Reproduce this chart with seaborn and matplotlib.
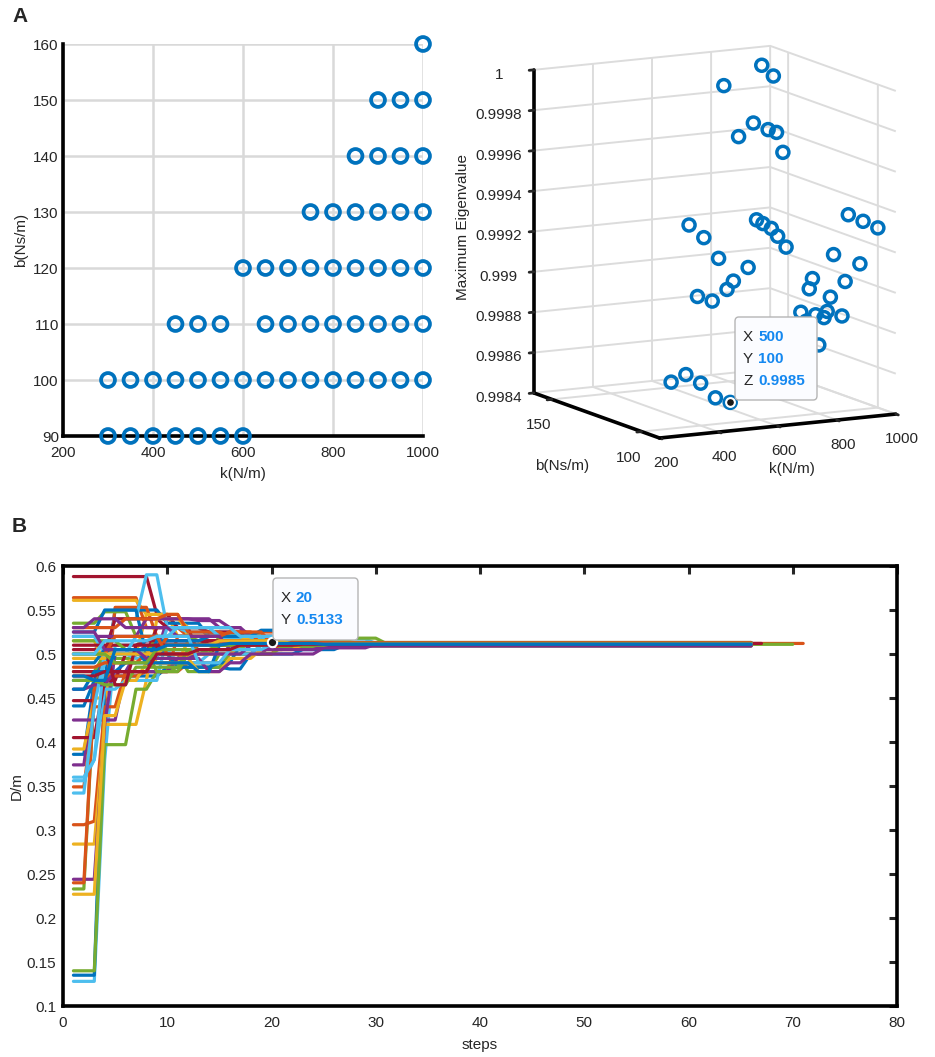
import numpy as np
import pandas as pd
import matplotlib
matplotlib.use("Agg")
import matplotlib.pyplot as plt
import seaborn as sns
from matplotlib.patches import FancyBboxPatch
from matplotlib.ticker import FuncFormatter


# ---- panel A: (k, b) pairs and their maximum eigenvalue ----
k_vals = [300, 350, 400, 450, 500, 550, 600,
          300, 350, 400, 450, 500, 550, 600, 650, 700, 750, 800, 850, 900, 950, 1000,
          450, 500, 550, 650, 700, 750, 800, 850, 900, 950, 1000,
          600, 650, 700, 750, 800, 850, 900, 950, 1000,
          750, 800, 850, 900, 950, 1000,
          850, 900, 950, 1000,
          900, 950, 1000,
          1000]
b_vals = [90] * 7 + [100] * 15 + [110] * 11 + [120] * 9 + [130] * 6 + [140] * 4 + [150] * 3 + [160]
eig_vals = [0.99944, 0.99937, 0.99926, 0.99914, 0.99920, 0.99941, 0.99934,
            0.99863, 0.99866, 0.99861, 0.99853, 0.99850, 0.99855, 0.99859, 0.99865,
            0.99871, 0.99878, 0.99874, 0.99918, 0.99937, 0.99933, 0.99929,
            0.99900, 0.99897, 0.99902, 0.99935, 0.99930, 0.99920, 0.99887, 0.99885,
            0.99893, 0.99900, 0.99908,
            0.99999, 0.99973, 0.99979, 0.99975, 0.99963, 0.99859, 0.99899, 0.99882, 0.99879,
            0.99870, 0.99863, 0.99849, 0.99868, 0.99890, 0.99875,
            0.99999, 0.99965, 0.99854, 0.99870,
            0.99847, 0.99989, 0.99855,
            0.99857]
tip_a = (500, 100, 0.9985)

# ---- panel B: D/m per run, as (step, value) change points, held until the next one ----
runs = [
    [(1, 0.386), (3, 0.47), (4, 0.505), (9, 0.51), (20, 0.511)],
    [(1, 0.564), (8, 0.53), (12, 0.52), (19, 0.525), (22, 0.512)],
    [(1, 0.561), (8, 0.545), (11, 0.52), (18, 0.512)],
    [(1, 0.374), (3, 0.46), (4, 0.50), (8, 0.51), (16, 0.512)],
    [(1, 0.233), (3, 0.46), (4, 0.495), (9, 0.50), (14, 0.505), (22, 0.511)],
    [(1, 0.128), (4, 0.38), (5, 0.51), (8, 0.515), (14, 0.52), (22, 0.513)],
    [(1, 0.588), (9, 0.545), (11, 0.53), (14, 0.52), (20, 0.512)],
    [(1, 0.441), (3, 0.47), (5, 0.55), (10, 0.535), (14, 0.52), (21, 0.511)],
    [(1, 0.349), (3, 0.44), (5, 0.553), (9, 0.52), (16, 0.524), (20, 0.511)],
    [(1, 0.392), (3, 0.45), (5, 0.50), (8, 0.545), (12, 0.52), (19, 0.512)],
    [(1, 0.425), (6, 0.48), (7, 0.50), (10, 0.54), (15, 0.53), (18, 0.512)],
    [(1, 0.535), (4, 0.548), (7, 0.52), (10, 0.50), (12, 0.48), (15, 0.50), (19, 0.51), (24, 0.509)],
    [(1, 0.50), (5, 0.54), (8, 0.59), (10, 0.53), (12, 0.525), (17, 0.515), (25, 0.512)],
    [(1, 0.447), (4, 0.50), (5, 0.54), (10, 0.53), (13, 0.50), (15, 0.51), (22, 0.511)],
    [(1, 0.135), (4, 0.47), (5, 0.475), (10, 0.485), (16, 0.483), (18, 0.50), (23, 0.505), (27, 0.51)],
    [(1, 0.306), (3, 0.31), (4, 0.44), (6, 0.48), (12, 0.49), (16, 0.50), (21, 0.512)],
    [(1, 0.284), (4, 0.42), (8, 0.47), (9, 0.54), (12, 0.53), (17, 0.52), (20, 0.511)],
    [(1, 0.244), (4, 0.42), (5, 0.50), (9, 0.49), (12, 0.50), (20, 0.511)],
    [(1, 0.14), (4, 0.397), (7, 0.46), (9, 0.48), (11, 0.485), (16, 0.50), (21, 0.508), (27, 0.51)],
    [(1, 0.356), (3, 0.38), (4, 0.46), (6, 0.47), (10, 0.52), (16, 0.517), (30, 0.512)],
    [(1, 0.405), (4, 0.47), (6, 0.50), (9, 0.53), (14, 0.525), (18, 0.51)],
    [(1, 0.47), (5, 0.50), (10, 0.505), (17, 0.51), (20, 0.5133), (28, 0.511)],
    [(1, 0.240), (3, 0.46), (4, 0.475), (8, 0.48), (11, 0.52), (16, 0.525), (19, 0.51)],
    [(1, 0.227), (4, 0.43), (6, 0.47), (8, 0.49), (12, 0.515), (18, 0.52), (22, 0.513)],
    [(1, 0.52), (8, 0.54), (13, 0.538), (16, 0.53), (18, 0.52), (26, 0.513), (30, 0.512)],
    [(1, 0.48), (4, 0.50), (9, 0.52), (13, 0.515), (19, 0.51)],
    [(1, 0.36), (3, 0.38), (4, 0.50), (8, 0.505), (11, 0.49), (14, 0.50), (19, 0.51)],
    [(1, 0.505), (4, 0.51), (8, 0.515), (18, 0.511)],
    [(1, 0.525), (4, 0.55), (8, 0.50), (11, 0.485), (15, 0.49), (17, 0.51)],
    [(1, 0.53), (6, 0.54), (10, 0.545), (12, 0.525), (16, 0.52), (21, 0.512)],
    [(1, 0.515), (4, 0.49), (7, 0.495), (13, 0.48), (16, 0.495), (19, 0.505), (23, 0.511)],
    [(1, 0.46), (3, 0.465), (5, 0.48), (11, 0.495), (14, 0.48), (16, 0.49), (18, 0.50), (25, 0.507), (30, 0.511)],
    [(1, 0.515), (6, 0.505), (9, 0.48), (12, 0.50), (15, 0.52), (20, 0.513)],
    [(1, 0.342), (3, 0.44), (4, 0.50), (7, 0.495), (10, 0.53), (15, 0.52), (20, 0.511)],
    [(1, 0.48), (9, 0.51), (14, 0.515), (24, 0.51)],
    [(1, 0.46), (3, 0.48), (6, 0.49), (9, 0.515), (14, 0.52), (19, 0.527), (22, 0.515), (26, 0.511)],
    [(1, 0.485), (4, 0.49), (8, 0.50), (10, 0.52), (16, 0.525), (20, 0.512)],
    [(1, 0.495), (5, 0.505), (9, 0.49), (12, 0.50), (17, 0.51)],
    [(1, 0.53), (3, 0.54), (6, 0.53), (11, 0.52), (16, 0.505), (25, 0.509)],
    [(1, 0.47), (4, 0.465), (7, 0.485), (12, 0.505), (18, 0.515), (28, 0.518), (31, 0.512)],
    [(1, 0.52), (4, 0.50), (7, 0.52), (11, 0.53), (17, 0.52), (22, 0.512)],
    [(1, 0.51), (5, 0.465), (7, 0.51), (20, 0.51)],
    [(1, 0.49), (4, 0.505), (8, 0.49), (13, 0.48), (15, 0.51), (21, 0.513)],
    [(1, 0.50), (5, 0.52), (10, 0.50), (13, 0.51), (19, 0.513)],
    [(1, 0.50), (10, 0.51), (15, 0.515), (22, 0.511)],
    [(1, 0.525), (4, 0.505), (8, 0.495), (13, 0.50), (18, 0.51)],
    [(1, 0.50), (5, 0.49), (9, 0.505), (15, 0.51), (26, 0.512)],
    [(1, 0.50), (4, 0.515), (9, 0.52), (13, 0.49), (16, 0.505), (20, 0.511)],
    [(1, 0.475), (4, 0.48), (9, 0.50), (13, 0.505), (17, 0.51), (23, 0.511)],
    [(1, 0.475), (3, 0.47), (5, 0.505), (10, 0.51), (16, 0.512), (25, 0.511)],
]
run_end = [66, 71, 66, 66, 70, 66, 67] + [66] * 43
tip_b = (20, 0.5133)

matlab_colors = ["#0072BD", "#D95319", "#EDB120", "#7E2F8E", "#77AC30", "#4DBEEE", "#A2142F"]
blue = matlab_colors[0]
tip_blue = "#1488F0"


def expand_run(points, end):
    starts = np.array([p[0] for p in points])
    values = np.array([p[1] for p in points])
    steps = np.arange(1, end + 1)
    return steps, values[np.searchsorted(starts, steps, side="right") - 1]


def px(x, y):
    # figure pixel (from top-left) -> figure fraction
    return x / W, 1 - y / H


def datatip(fig, x0, y0, x1, y1, rows):
    fx0, fy1 = px(x0, y1)
    fx1, fy0 = px(x1, y0)
    box = FancyBboxPatch((fx0, fy1), fx1 - fx0, fy0 - fy1, transform=fig.transFigure,
                         boxstyle="round,pad=0,rounding_size=0.004", fc="#fbfcff",
                         ec="#b5b5b5", lw=1.0, zorder=10)
    fig.add_artist(box)
    for i, (name, val) in enumerate(rows):
        tx, ty = px(x0 + 8, y0 + 20 + 22 * i)
        fig.text(tx, ty, name, fontsize=11, va="center", ha="left", zorder=11)
        tx2, _ = px(x0 + 23, 0)
        fig.text(tx2, ty, val, fontsize=11, va="center", ha="left", color=tip_blue,
                 weight="bold", zorder=11)


sns.set_style("white")
plt.rcParams["font.family"] = ["Liberation Sans", "DejaVu Sans"]
plt.rcParams["axes.unicode_minus"] = False

W, H = 935, 1057
fig = plt.figure(figsize=(W / 100, H / 100), dpi=100)

# ---------- A left ----------
ax1 = fig.add_axes([63 / W, 1 - 436 / H, 360 / W, 392 / H])
sns.scatterplot(x=k_vals, y=b_vals, ax=ax1, s=100, facecolor="none", edgecolor=blue,
                linewidth=2.7, zorder=3, clip_on=False)
ax1.set_xlim(200, 1000)
ax1.set_ylim(90, 160)
ax1.set_xticks(range(200, 1001, 200))
ax1.set_yticks(range(90, 161, 10))
ax1.grid(True, color="#d9d9d9", lw=1.8)
ax1.set_axisbelow(True)
for side in ["top", "right"]:
    ax1.spines[side].set_visible(False)
for side in ["left", "bottom"]:
    ax1.spines[side].set_linewidth(2.6)
    ax1.spines[side].set_color("black")
ax1.tick_params(direction="in", length=5, width=2.2, labelsize=11)
ax1.tick_params(axis="x", pad=7)
ax1.tick_params(axis="y", pad=3)
ax1.set_xlabel("k(N/m)", fontsize=11, labelpad=5)
ax1.set_ylabel("b(Ns/m)", fontsize=11, labelpad=4)

# ---------- A right (3D) ----------
ax3 = fig.add_axes([0.5232, 0.558, 0.47, 0.415], projection="3d", computed_zorder=False)
ax3.set_proj_type("ortho")
ax3.view_init(elev=11, azim=-118)
ax3.set_box_aspect((1, 1, 1.23), zoom=1.11)
ax3.scatter(k_vals, b_vals, eig_vals, s=75, facecolors="none", edgecolors=blue,
            linewidths=2.5, depthshade=False)
ax3.scatter([tip_a[0]], [tip_a[1]], [tip_a[2]], s=40, c="#1a1a1a", edgecolors="white",
            linewidths=1.5, depthshade=False)
ax3.set_xlim(200, 1000)
ax3.set_ylim(90, 160)
ax3.set_zlim(0.9984, 1.0)
ax3.set_xticks(range(200, 1001, 200))
ax3.set_yticks([100, 150])
ax3.set_zticks(np.linspace(0.9984, 1.0, 9))
ax3.zaxis.set_major_formatter(FuncFormatter(lambda v, p: "%g" % round(v, 4)))
for axis in (ax3.xaxis, ax3.yaxis, ax3.zaxis):
    axis.pane.fill = False
    axis.pane.set_edgecolor("none")
    axis._axinfo["grid"].update(color="#dcdcdc", linewidth=1.4)
    axis._axinfo["tick"].update(inward_factor=0.25, outward_factor=0.0)
    axis._axinfo["tick"]["linewidth"] = {True: 2.0, False: 1.0}
    axis.line.set_color("black")
    axis.line.set_linewidth(2.6)
ax3.tick_params(labelsize=11, pad=1)
ax3.xaxis.set_tick_params(pad=0)
ax3.zaxis.set_tick_params(pad=8)
ax3.xaxis.set_rotate_label(False)
ax3.yaxis.set_rotate_label(False)
ax3.set_xlabel("k(N/m)", fontsize=11, labelpad=-2)
ax3.set_ylabel("b(Ns/m)", fontsize=11, labelpad=3)
ax3.set_zlabel("Maximum Eigenvalue", fontsize=11, labelpad=11)

datatip(fig, 735, 317, 817, 400, [("X", "500"), ("Y", "100"), ("Z", "0.9985")])

# ---------- B ----------
axb = fig.add_axes([63 / W, 1 - 1006 / H, 834 / W, 440 / H])
frames = []
for i, (pts, end) in enumerate(zip(runs, run_end)):
    s, v = expand_run(pts, end)
    frames.append(pd.DataFrame({"step": s, "D": v, "run": i}))
df_b = pd.concat(frames, ignore_index=True)
palette = {i: matlab_colors[i % 7] for i in range(len(runs))}
sns.lineplot(data=df_b, x="step", y="D", hue="run", palette=palette, legend=False,
             estimator=None, linewidth=2.3, ax=axb)
axb.scatter([tip_b[0]], [tip_b[1]], s=45, c="#1a1a1a", edgecolors="white", linewidths=1.5,
            zorder=5)
axb.set_xlim(0, 80)
axb.set_ylim(0.1, 0.6)
axb.set_xticks(range(0, 81, 10))
axb.set_yticks(np.round(np.arange(0.1, 0.601, 0.05), 2))
axb.yaxis.set_major_formatter(FuncFormatter(lambda v, p: "%g" % round(v, 2)))
for side in axb.spines.values():
    side.set_linewidth(2.6)
    side.set_color("black")
axb.tick_params(direction="in", length=6, width=2.2, labelsize=11, top=True, right=True)
axb.tick_params(axis="x", pad=7)
axb.tick_params(axis="y", pad=5)
axb.set_xlabel("steps", fontsize=11, labelpad=6)
axb.set_ylabel("D/m", fontsize=11, labelpad=2)

datatip(fig, 273, 578, 358, 640, [("X", "20"), ("Y", "0.5133")])

fig.text(*px(12, 17), "A", fontsize=15, weight="bold", va="center", ha="left")
fig.text(*px(12, 527), "B", fontsize=15, weight="bold", va="center", ha="left")

fig.savefig("out.png", dpi=100)
